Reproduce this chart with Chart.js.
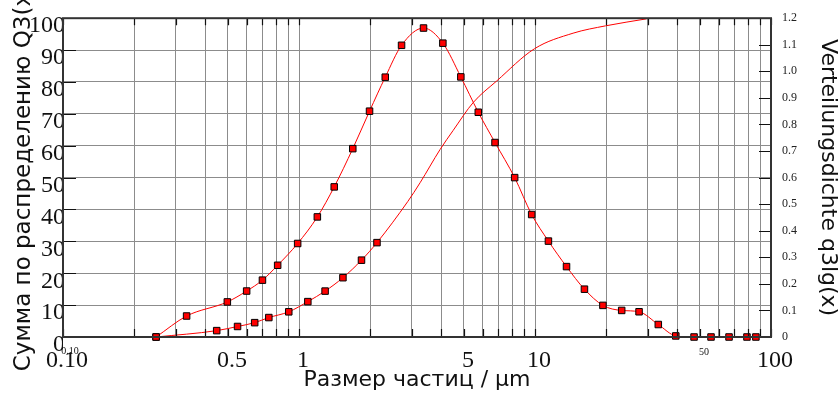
<!DOCTYPE html>
<html>
<head>
<meta charset="utf-8">
<title>Q3 / q3lg</title>
<script src="https://cdn.jsdelivr.net/npm/chart.js@4.4.1/dist/chart.umd.min.js"></script>
<style>
  html, body { margin: 0; padding: 0; background: #fff; }
  canvas { display: block; }
</style>
</head>
<body>
<canvas id="psdChart" width="839" height="395"></canvas>
<script>
// density q3lg(x), right axis
const densSizes = [0.248, 0.334, 0.497, 0.60, 0.70, 0.812, 0.987, 1.196, 1.41, 1.69, 1.99, 2.32, 2.72, 3.37, 4.07, 4.85, 5.75, 6.77, 8.2, 9.68, 11.4, 13.6, 16.2, 19.4, 23.3, 27.6, 33.3, 39.5, 47.2, 55.7, 66.4, 79.1, 86.3];
const densValues = [0, 0.079, 0.132, 0.173, 0.214, 0.270, 0.352, 0.452, 0.565, 0.709, 0.850, 0.978, 1.098, 1.163, 1.106, 0.979, 0.846, 0.732, 0.600, 0.461, 0.361, 0.265, 0.180, 0.119, 0.100, 0.095, 0.047, 0.004, 0, 0, 0, 0, 0];

// cumulative Q3(x), left axis
const cumSizes = [0.248, 0.448, 0.549, 0.649, 0.745, 0.905, 1.09, 1.29, 1.535, 1.84, 2.14, 2.89, 3.26, 3.96, 4.5, 5.48, 6.88, 9.94, 14.5, 19.9, 29.7];
const cumValues = [0, 2.0, 3.3, 4.5, 6.1, 7.9, 11.1, 14.4, 18.6, 24.1, 29.6, 42.5, 48.4, 58.8, 64.8, 73.6, 80.3, 90.4, 95.3, 97.6, 99.8];
const cumMarked = 11; // only the first points carry a marker

const xGridValues = [0.1, 0.2, 0.3, 0.4, 0.5, 0.6, 0.7, 0.8, 0.9, 1, 2, 3, 4, 5, 6, 7, 8, 9, 10, 20, 30, 40, 50, 60, 70, 80, 90, 100];
const xTickLabels = { 0.1: "0.10", 0.5: "0.5", 1: "1", 5: "5", 10: "10", 50: "50", 100: "100" };
const leftTickValues = [0, 10, 20, 30, 40, 50, 60, 70, 80, 90, 100];
const rightTickValues = [0, 0.1, 0.2, 0.3, 0.4, 0.5, 0.6, 0.7, 0.8, 0.9, 1.0, 1.1, 1.2];

const serif = "'Liberation Serif', 'Times New Roman', serif";
const sans = "'DejaVu Sans', sans-serif";

const framePlugin = {
    id: "frame",
    afterDraw(chart) {
        const { ctx, chartArea: a, scales } = chart;
        ctx.save();
        ctx.strokeStyle = "#111";
        ctx.lineWidth = 1.2;
        ctx.beginPath();
        xGridValues.forEach(v => {
            const px = Math.round(scales.x.getPixelForValue(v)) + 0.5;
            ctx.moveTo(px, a.bottom);
            ctx.lineTo(px, a.bottom - 8);
            ctx.moveTo(px, a.top);
            ctx.lineTo(px, a.top + 7);
        });
        leftTickValues.forEach(v => {
            const py = Math.round(scales.y.getPixelForValue(v)) + 0.5;
            ctx.moveTo(a.left, py);
            ctx.lineTo(a.left + 13, py);
        });
        rightTickValues.forEach(v => {
            const py = Math.round(scales.y1.getPixelForValue(v)) + 0.5;
            ctx.moveTo(a.right, py);
            ctx.lineTo(a.right - 12, py);
        });
        ctx.stroke();
        ctx.strokeStyle = "#333";
        ctx.lineWidth = 2;
        ctx.strokeRect(a.left, a.top, a.width, a.height);
        ctx.restore();
    }
};

const ctx = document.getElementById("psdChart").getContext("2d");

new Chart(ctx, {
    type: "line",
    data: {
        datasets: [
            {
                label: "q3lg(x)",
                data: densSizes.map((s, i) => ({ x: s, y: densValues[i] })),
                yAxisID: "y1",
                borderColor: "#ff0000",
                borderWidth: 1,
                pointStyle: "rect",
                pointRadius: 4.6,
                pointBackgroundColor: "#ff0000",
                pointBorderColor: "#000",
                pointBorderWidth: 1,
                cubicInterpolationMode: "monotone",
                clip: false
            },
            {
                label: "Q3(x)",
                data: cumSizes.map((s, i) => ({ x: s, y: cumValues[i] })),
                yAxisID: "y",
                borderColor: "#ff0000",
                borderWidth: 1,
                pointStyle: "rect",
                pointRadius: c => c.dataIndex < cumMarked ? 4.6 : 0,
                pointBackgroundColor: "#ff0000",
                pointBorderColor: "#000",
                pointBorderWidth: 1,
                cubicInterpolationMode: "monotone",
                clip: false
            }
        ]
    },
    options: {
        responsive: false,
        animation: false,
        devicePixelRatio: 1,
        layout: { padding: { top: 15, left: 0, right: 0, bottom: 0 } },
        plugins: {
            legend: { display: false },
            tooltip: { enabled: false }
        },
        scales: {
            x: {
                type: "logarithmic",
                position: "bottom",
                weight: 1,
                min: 0.1,
                max: 100,
                afterBuildTicks: s => { s.ticks = xGridValues.map(v => ({ value: v })); },
                afterFit: s => { s.height = 58; },
                grid: { color: "#8c8c8c", lineWidth: 1, drawTicks: false },
                border: { display: false },
                ticks: {
                    autoSkip: false,
                    maxRotation: 0,
                    padding: 9,
                    labelOffset: 4,
                    color: "#111",
                    font: c => (c.tick && c.tick.value === 50)
                        ? { family: serif, size: 10 }
                        : { family: serif, size: 24 },
                    callback: v => xTickLabels[v] || ""
                },
                title: {
                    display: true,
                    text: "Размер частиц / µm",
                    color: "#111",
                    font: { family: sans, size: 22, lineHeight: 1 },
                    padding: { top: 0, bottom: 4 }
                }
            },
            // second row: the small "0.10" under the left corner
            x2: {
                type: "logarithmic",
                position: "bottom",
                weight: 0,
                min: 0.1,
                max: 100,
                afterBuildTicks: s => { s.ticks = [{ value: 0.1 }]; },
                afterFit: s => { s.height = 0; },
                grid: { display: false, drawTicks: false },
                border: { display: false },
                ticks: {
                    autoSkip: false,
                    maxRotation: 0,
                    mirror: true,
                    padding: -20,
                    labelOffset: 7,
                    color: "#111",
                    font: { family: serif, size: 10 },
                    callback: () => "0.10"
                }
            },
            y: {
                type: "linear",
                position: "left",
                min: 0,
                max: 100,
                afterBuildTicks: s => { s.ticks = leftTickValues.map(v => ({ value: v })); },
                afterFit: s => { s.width = 63; },
                grid: { color: "#8c8c8c", lineWidth: 1, drawTicks: false },
                border: { display: false },
                ticks: {
                    padding: -2,
                    labelOffset: 8,
                    color: "#111",
                    font: { family: serif, size: 24 },
                    callback: v => String(v)
                },
                title: {
                    display: true,
                    text: "Сумма по распределению Q3(x)",
                    color: "#111",
                    font: { family: sans, size: 23, lineHeight: 1 },
                    padding: { top: 13, bottom: 0 }
                }
            },
            y1: {
                type: "linear",
                position: "right",
                min: 0,
                max: 1.2,
                afterBuildTicks: s => { s.ticks = rightTickValues.map(v => ({ value: v })); },
                afterFit: s => { s.width = 68; },
                grid: { display: false, drawTicks: false },
                border: { display: false },
                ticks: {
                    padding: 11,
                    color: "#222",
                    font: { family: serif, size: 12 },
                    callback: v => v === 0 ? "0" : v.toFixed(1)
                },
                title: {
                    display: true,
                    text: "Verteilungsdichte q3lg(x)",
                    color: "#111",
                    font: { family: sans, size: 22, lineHeight: 1 },
                    padding: { top: 0, bottom: 0 }
                }
            }
        }
    },
    plugins: [framePlugin]
});
</script>
</body>
</html>
